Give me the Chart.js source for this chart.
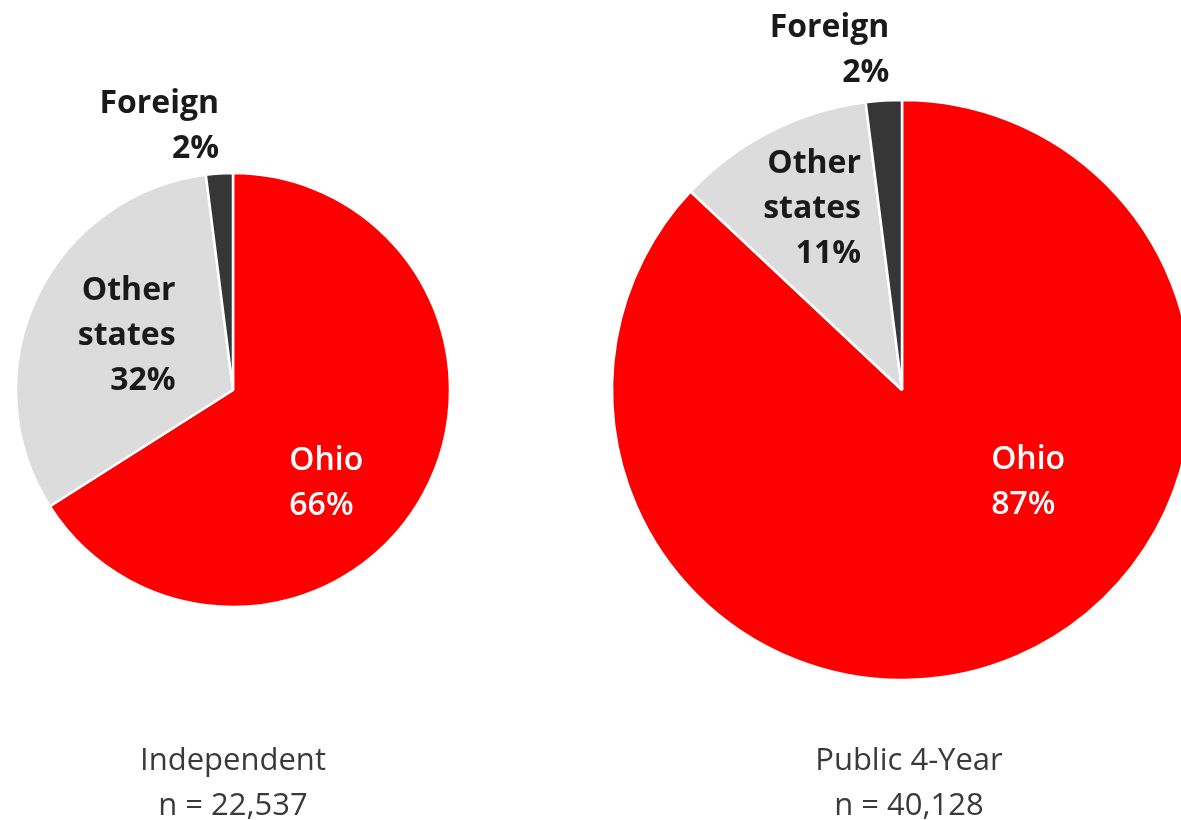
<!DOCTYPE html>
<html>
<head>
<meta charset="utf-8">
<script src="https://cdn.jsdelivr.net/npm/chart.js@4.4.1/dist/chart.umd.min.js"></script>
<style>
html,body{margin:0;padding:0;background:#fff;overflow:hidden;width:1181px;height:820px;}
.box{position:absolute;top:0;height:780px;}
#b1{left:0;width:466px;}
#b2{left:602px;width:600px;}
.ttl{position:absolute;font-family:"Open Sans",sans-serif;font-size:31px;color:#3a3a3a;text-align:center;line-height:45px;width:400px;}
</style>
</head>
<body>
<div class="box" id="b1"><canvas id="c1"></canvas></div>
<div class="box" id="b2"><canvas id="c2"></canvas></div>
<div class="ttl" style="left:33px;top:736px;">Independent<br>n = 22,537</div>
<div class="ttl" style="left:709px;top:736px;">Public 4-Year<br>n = 40,128</div>
<script>
const categories = ["Ohio", "Other states", "Foreign"];
const independentValues = [66, 32, 2];
const publicValues = [87, 11, 2];
const independentLabels = [["Ohio", "66%"], ["Other", "states", "32%"], ["Foreign", "2%"]];
const publicLabels = [["Ohio", "87%"], ["Other", "states", "11%"], ["Foreign", "2%"]];
const sliceColors = ["#ff0000", "#dcdcdc", "#363636"];
const textColors = ["#ffffff", "#1a1a1a", "#1a1a1a"];

const labelPlugin = {
  id: "sliceLabels",
  afterDatasetsDraw(chart, args, opts) {
    const ctx = chart.ctx;
    const arcs = chart.getDatasetMeta(0).data;
    ctx.save();
    ctx.textBaseline = "middle";
    arcs.forEach((arc, i) => {
      ctx.font = (i === 0 ? "600" : "bold") + " 32px 'Open Sans', sans-serif";
      const r = arc.outerRadius;
      const [fx, fy] = opts.pos[i];
      const lines = opts.labels[i];
      const cx = arc.x + fx * r;
      const cy = arc.y + fy * r;
      const lh = 45;
      const h0 = cy - (lines.length - 1) * lh / 2;
      const widths = lines.map(l => ctx.measureText(l).width);
      const maxW = Math.max(...widths);
      ctx.fillStyle = textColors[i];
      lines.forEach((l, k) => {
        let x;
        if (opts.align[i] === "right") x = cx + maxW / 2 - widths[k];
        else if (opts.align[i] === "left") x = cx - maxW / 2;
        else x = cx - widths[k] / 2;
        ctx.textAlign = "left";
        ctx.fillText(l, x, h0 + k * lh);
      });
    });
    ctx.restore();
  }
};

function makePie(id, values, labels, radius, pos) {
  return new Chart(document.getElementById(id), {
    type: "pie",
    data: {
      labels: categories,
      datasets: [{
        data: values,
        backgroundColor: sliceColors,
        borderColor: "#ffffff",
        borderWidth: 2.5,
        radius: radius
      }]
    },
    options: {
      responsive: true,
      maintainAspectRatio: false,
      animation: false,
      layout: { padding: 0 },
      plugins: {
        legend: { display: false },
        tooltip: { enabled: false },
        sliceLabels: { labels: labels, pos: pos, align: ["left", "right", "right"] }
      }
    },
    plugins: [labelPlugin]
  });
}

makePie("c1", independentValues, independentLabels, 217,
  [[0.43, 0.43], [-0.49, -0.25], [-0.34, -1.215]]);
makePie("c2", publicValues, publicLabels, 290,
  [[0.435, 0.32], [-0.31, -0.625], [-0.25, -1.17]]);
</script>
</body>
</html>
